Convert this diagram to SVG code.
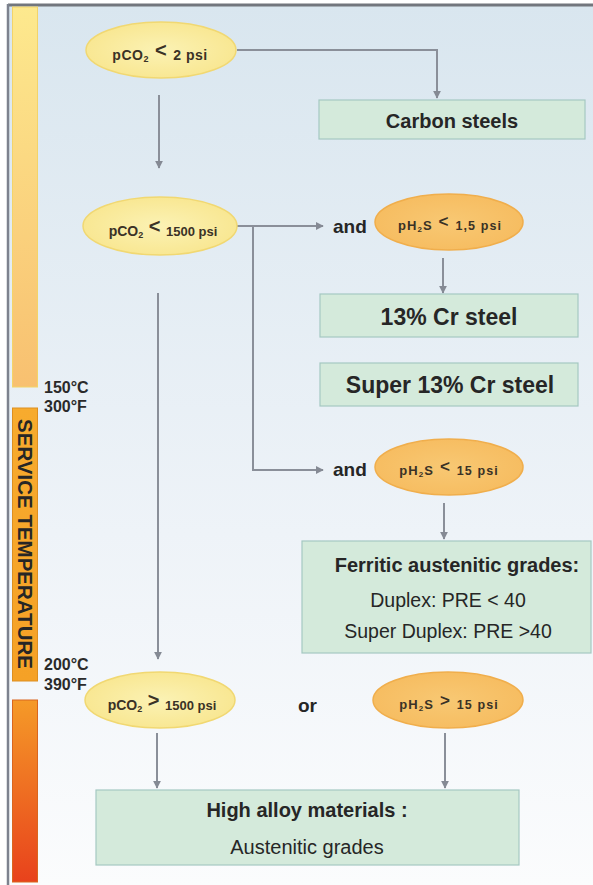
<svg xmlns="http://www.w3.org/2000/svg" width="593" height="885" viewBox="0 0 593 885">
<defs>
<linearGradient id="bg" x1="0" y1="0" x2="0" y2="1">
<stop offset="0" stop-color="#d9e6ef"/>
<stop offset="0.6" stop-color="#eef3f8"/>
<stop offset="1" stop-color="#fbfcfd"/>
</linearGradient>
<linearGradient id="bar1" x1="0" y1="0" x2="0" y2="1">
<stop offset="0" stop-color="#fde98e"/>
<stop offset="1" stop-color="#f8c070"/>
</linearGradient>
<linearGradient id="bar2" x1="0" y1="0" x2="0" y2="1">
<stop offset="0" stop-color="#f7ab2e"/>
<stop offset="1" stop-color="#f5a126"/>
</linearGradient>
<linearGradient id="bar3" x1="0" y1="0" x2="0" y2="1">
<stop offset="0" stop-color="#f59a28"/>
<stop offset="1" stop-color="#e8421c"/>
</linearGradient>
<radialGradient id="yel" cx="0.5" cy="0.5" r="0.6">
<stop offset="0" stop-color="#fbf2b4"/>
<stop offset="1" stop-color="#f8e58c"/>
</radialGradient>
<radialGradient id="org" cx="0.5" cy="0.5" r="0.6">
<stop offset="0" stop-color="#f8c873"/>
<stop offset="1" stop-color="#f6bb5e"/>
</radialGradient>
<marker id="ah" viewBox="0 0 10 10" refX="9" refY="5" markerWidth="8" markerHeight="8" markerUnits="userSpaceOnUse" orient="auto">
<path d="M0,0 L10,5 L0,10 z" fill="#858a94"/>
</marker>
<style>
.conn{fill:none;stroke:#8a8f99;stroke-width:2}
.box{fill:#d4eadb;stroke:#a5c8c2;stroke-width:1.2}
.ey{fill:url(#yel);stroke:#f1d872;stroke-width:1.5}
.eo{fill:url(#org);stroke:#f0ae4c;stroke-width:1.5}
.t{font-family:"Liberation Sans",Arial,sans-serif;fill:#262626}
.b{font-weight:bold}
.et{font-family:"Liberation Sans",Arial,sans-serif;font-weight:bold;fill:#3a3226;font-size:14px}
.ph{font-size:13px;letter-spacing:1.1px}
.lbl{font-family:"Liberation Sans",Arial,sans-serif;font-weight:bold;fill:#2a2a2a;font-size:16px}
</style>
</defs>
<rect x="0" y="0" width="593" height="885" fill="#ffffff"/>
<rect x="8" y="5" width="585" height="880" fill="url(#bg)"/>
<line x1="8" y1="5" x2="593" y2="5" stroke="#72767d" stroke-width="3"/>
<line x1="8" y1="4" x2="8" y2="885" stroke="#7d828e" stroke-width="2.5"/>

<g id="scale">
<rect x="12.5" y="7" width="25" height="380" fill="url(#bar1)" stroke="#f3d469" stroke-width="1"/>
<rect x="12.5" y="408" width="25" height="273" fill="url(#bar2)" stroke="#dd8f20" stroke-width="1"/>
<rect x="12.5" y="700" width="25" height="182" fill="url(#bar3)" stroke="#d9661e" stroke-width="1"/>
<text class="t b" font-size="20.5" text-anchor="middle" transform="translate(17.5,544) rotate(90)">SERVICE TEMPERATURE</text>
<text class="lbl" x="44" y="393">150°C</text>
<text class="lbl" x="44" y="412">300°F</text>
<text class="lbl" x="44" y="670">200°C</text>
<text class="lbl" x="44" y="690">390°F</text>
</g>

<g id="connectors">
<path class="conn" d="M237,50 H437 V98" marker-end="url(#ah)"/>
<path class="conn" d="M159,95 V168" marker-end="url(#ah)"/>
<path class="conn" d="M237,226 H323" marker-end="url(#ah)"/>
<path class="conn" d="M253,226 V470 H323" marker-end="url(#ah)"/>
<path class="conn" d="M158,293 V659" marker-end="url(#ah)"/>
<path class="conn" d="M443,258 V293" marker-end="url(#ah)"/>
<path class="conn" d="M444,503 V539" marker-end="url(#ah)"/>
<path class="conn" d="M157,733 V788" marker-end="url(#ah)"/>
<path class="conn" d="M445,733 V788" marker-end="url(#ah)"/>
</g>

<g id="n-pco2-2">
<ellipse class="ey" cx="161" cy="50" rx="75" ry="28"/>
<text class="et" x="160" y="60" text-anchor="middle" letter-spacing="0.5">pCO<tspan font-size="9" dy="2">2</tspan><tspan font-size="20" dy="-5"> &lt; </tspan><tspan dy="3">2 psi</tspan></text>
</g>
<g id="n-carbon">
<rect class="box" x="319" y="100" width="266" height="39"/>
<text class="t b" x="452" y="128" font-size="20" text-anchor="middle">Carbon steels</text>
</g>
<g id="n-pco2-1500">
<ellipse class="ey" cx="160" cy="226" rx="77" ry="29"/>
<text class="et" x="163" y="236" text-anchor="middle">pCO<tspan font-size="9" dy="2">2</tspan><tspan font-size="20" dy="-5"> &lt; </tspan><tspan dy="3" font-size="13">1500 psi</tspan></text>
</g>
<g id="n-and1">
<text class="t b" x="333" y="233" font-size="19">and</text>
</g>
<g id="n-ph2s-15a">
<ellipse class="eo" cx="449" cy="222" rx="74" ry="28"/>
<text class="et ph" x="450" y="230" text-anchor="middle">pH<tspan font-size="8" dy="2">2</tspan><tspan dy="-2">S</tspan><tspan font-size="17" dy="-3"> &lt; </tspan><tspan dy="3" font-size="12.5">1,5 psi</tspan></text>
</g>
<g id="n-13cr">
<rect class="box" x="320" y="294" width="258" height="43"/>
<text class="t b" x="449" y="325" font-size="23" text-anchor="middle">13% Cr steel</text>
</g>
<g id="n-super13cr">
<rect class="box" x="320" y="363" width="258" height="43"/>
<text class="t b" x="450" y="393" font-size="23" text-anchor="middle">Super 13% Cr steel</text>
</g>
<g id="n-and2">
<text class="t b" x="333" y="476" font-size="19">and</text>
</g>
<g id="n-ph2s-15">
<ellipse class="eo" cx="449" cy="467" rx="74" ry="28"/>
<text class="et ph" x="449" y="475" text-anchor="middle">pH<tspan font-size="8" dy="2">2</tspan><tspan dy="-2">S</tspan><tspan font-size="17" dy="-3"> &lt; </tspan><tspan dy="3" font-size="12.5">15 psi</tspan></text>
</g>
<g id="n-ferritic">
<rect class="box" x="302" y="541" width="289" height="112"/>
<text class="t b" x="457" y="572" font-size="20" text-anchor="middle">Ferritic austenitic grades:</text>
<text class="t" x="448" y="607" font-size="19.5" text-anchor="middle">Duplex: PRE &lt; 40</text>
<text class="t" x="448" y="638" font-size="19.5" text-anchor="middle">Super Duplex: PRE &gt;40</text>
</g>
<g id="n-pco2-gt">
<ellipse class="ey" cx="160" cy="700" rx="75" ry="28"/>
<text class="et" x="162" y="710" text-anchor="middle">pCO<tspan font-size="9" dy="2">2</tspan><tspan font-size="20" dy="-5"> &gt; </tspan><tspan dy="3" font-size="13">1500 psi</tspan></text>
</g>
<g id="n-or">
<text class="t b" x="298" y="712" font-size="19">or</text>
</g>
<g id="n-ph2s-gt">
<ellipse class="eo" cx="448" cy="700" rx="75" ry="28"/>
<text class="et ph" x="449" y="709" text-anchor="middle">pH<tspan font-size="8" dy="2">2</tspan><tspan dy="-2">S</tspan><tspan font-size="17" dy="-3"> &gt; </tspan><tspan dy="3" font-size="12.5">15 psi</tspan></text>
</g>
<g id="n-highalloy">
<rect class="box" x="96" y="790" width="423" height="75"/>
<text class="t b" x="307" y="817" font-size="20" text-anchor="middle">High alloy materials :</text>
<text class="t" x="307" y="854" font-size="20" text-anchor="middle">Austenitic grades</text>
</g>
</svg>
